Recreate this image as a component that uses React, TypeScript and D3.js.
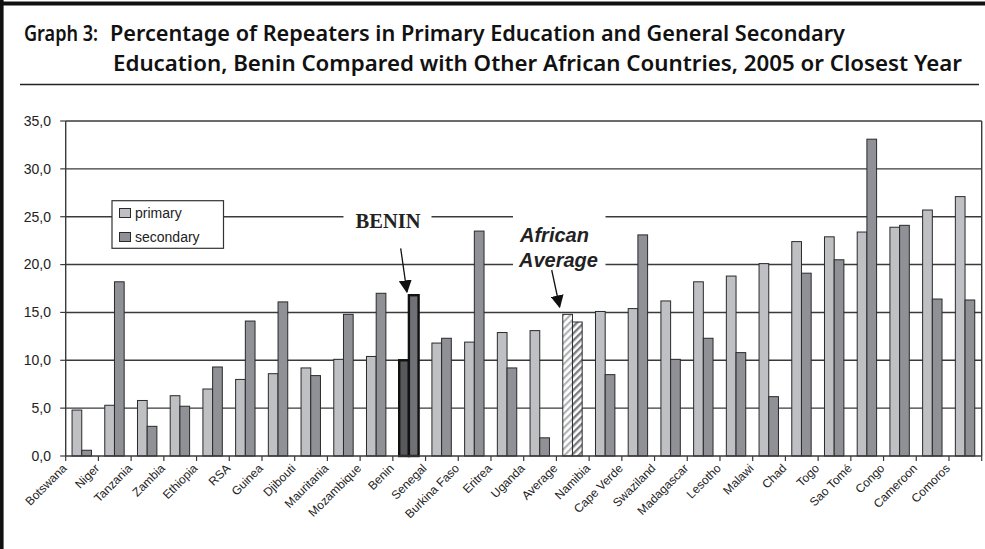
import React from "react";
import * as d3 from "d3";

const categories = [
  "Botswana", "Niger", "Tanzania", "Zambia", "Ethiopia", "RSA", "Guinea", "Djibouti",
  "Mauritania", "Mozambique", "Benin", "Senegal", "Burkina Faso", "Eritrea", "Uganda",
  "Average", "Namibia", "Cape Verde", "Swaziland", "Madagascar", "Lesotho", "Malawi",
  "Chad", "Togo", "Sao Tomé", "Congo", "Cameroon", "Comoros",
];
const primary = [
  4.8, 5.3, 5.8, 6.3, 7.0, 8.0, 8.6, 9.2, 10.1, 10.4, 10.0, 11.8, 11.9, 12.9, 13.1,
  14.8, 15.1, 15.4, 16.2, 18.2, 18.8, 20.1, 22.4, 22.9, 23.4, 23.9, 25.7, 27.1,
];
const secondary = [
  0.6, 18.2, 3.1, 5.2, 9.3, 14.1, 16.1, 8.4, 14.8, 17.0, 16.8, 12.3, 23.5, 9.2, 1.9,
  14.0, 8.5, 23.1, 10.1, 12.3, 10.8, 6.2, 19.1, 20.5, 33.1, 24.1, 16.4, 16.3,
];
const yTicks = [0, 5, 10, 15, 20, 25, 30, 35];
const seriesNames = ["primary", "secondary"];
const titleLine1a = "Graph 3:";
const titleLine1b = "Percentage of Repeaters in Primary Education and General Secondary";
const titleLine2 = "Education, Benin Compared with Other African Countries, 2005 or Closest Year";

const HIGHLIGHT = "Benin";
const AVERAGE = "Average";

export default function App() {
  const W = 985, H = 549;
  const left = 65.7, right = 981.7, top = 121, bottom = 456;
  const x = d3.scaleBand<string>().domain(categories).range([left, right]).padding(0);
  const y = d3.scaleLinear().domain([0, 35]).range([bottom, top]);
  const bw = x.bandwidth();
  const barW = 9.7;
  const offset = (bw - 2 * barW) / 2 - 0.3;
  const fmt = (v: number) => d3.format(".1f")(v).replace(".", ",");
  const colP = "#bfc0c4", colS = "#8f9196";
  const gridCol = "#3a3a3a";
  const sans = "'Liberation Sans', Arial, sans-serif";

  const bars: JSX.Element[] = [];
  categories.forEach((c, i) => {
    const x0 = (x(c) as number) + offset;
    [primary[i], secondary[i]].forEach((v, j) => {
      const bx = x0 + j * barW;
      const by = y(v);
      const h = y(0) - by;
      let fill = j === 0 ? colP : colS;
      let stroke = "#2a2a2a";
      let sw = 1;
      if (c === HIGHLIGHT) {
        fill = j === 0 ? "#58595c" : "#707176";
        stroke = "#111";
        sw = 2.4;
      } else if (c === AVERAGE) {
        fill = j === 0 ? "url(#hatchP)" : "url(#hatchS)";
      }
      bars.push(
        <rect key={c + j} x={bx} y={by} width={barW} height={h} fill={fill} stroke={stroke} strokeWidth={sw} />
      );
    });
  });

  const benX = (x(HIGHLIGHT) as number) + offset + barW;
  const avgX = (x(AVERAGE) as number) + offset + barW / 2;

  return (
    <svg width={W} height={H} style={{ position: "absolute", left: 0, top: 0, background: "#fff" }}>
      <defs>
        <pattern id="hatchP" width="5" height="5" patternUnits="userSpaceOnUse" patternTransform="rotate(45)">
          <rect width="5" height="5" fill="#fff" />
          <rect width="2.2" height="5" fill="#b3b4b8" />
        </pattern>
        <pattern id="hatchS" width="5" height="5" patternUnits="userSpaceOnUse" patternTransform="rotate(45)">
          <rect width="5" height="5" fill="#fff" />
          <rect width="2.4" height="5" fill="#7c7d82" />
        </pattern>
        <marker id="arr" viewBox="0 0 10 10" refX="9" refY="5" markerWidth="13" markerHeight="13" markerUnits="userSpaceOnUse" orient="auto">
          <path d="M0,0 L10,5 L0,10 z" fill="#111" />
        </marker>
      </defs>

      {/* frame */}
      <line x1={0} y1={3.5} x2={W} y2={3.5} stroke="#111" strokeWidth={4} />
      <line x1={1.8} y1={0} x2={1.8} y2={H} stroke="#111" strokeWidth={3.6} />

      {/* title */}
      <g fontFamily="'Noto Sans', 'Open Sans', sans-serif" fontWeight={600} fontSize={21} fill="#111">
        <text x={24} y={41} textLength={74} lengthAdjust="spacingAndGlyphs">{titleLine1a}</text>
        <text x={110} y={41} textLength={735} lengthAdjust="spacingAndGlyphs">{titleLine1b}</text>
        <text x={113} y={71} textLength={849} lengthAdjust="spacingAndGlyphs">{titleLine2}</text>
      </g>
      <line x1={20} y1={84.5} x2={979} y2={84.5} stroke="#222" strokeWidth={1.6} />

      {/* gridlines */}
      {yTicks.filter((t) => t > 0).map((t) => (
        <line key={t} x1={left} x2={right} y1={y(t)} y2={y(t)} stroke={gridCol} strokeWidth={1.4} />
      ))}
      <line x1={right} x2={right} y1={top} y2={bottom} stroke={gridCol} strokeWidth={1.4} />

      {/* white boxes behind annotations */}
      <rect x={343.5} y={204} width={88} height={32} fill="#fff" />
      <rect x={513} y={205} width={92.5} height={68} fill="#fff" />

      {/* bars */}
      {bars}

      {/* axes */}
      <line x1={left} x2={left} y1={top} y2={bottom} stroke={gridCol} strokeWidth={1.4} />
      <line x1={left} x2={right} y1={bottom} y2={bottom} stroke={gridCol} strokeWidth={1.4} />
      {yTicks.map((t) => (
        <g key={t}>
          <line x1={left - 5.5} x2={left} y1={y(t)} y2={y(t)} stroke={gridCol} strokeWidth={1.2} />
          <text x={51} y={y(t)} dy="0.35em" textAnchor="end" fontFamily={sans} fontSize={14} fill="#222">{fmt(t)}</text>
        </g>
      ))}
      {categories.map((c) => (
        <line key={"t" + c} x1={x(c) as number} x2={x(c) as number} y1={bottom} y2={bottom + 5} stroke={gridCol} strokeWidth={1.2} />
      ))}
      <line x1={right} x2={right} y1={bottom} y2={bottom + 5} stroke={gridCol} strokeWidth={1.2} />
      {categories.map((c) => {
        const ax = (x(c) as number) + 1.8;
        const ay = 469;
        return (
          <text key={"l" + c} x={ax} y={ay} transform={`rotate(-45, ${ax}, ${ay})`} textAnchor="end"
            fontFamily={sans} fontSize={12} fill="#222">{c}</text>
        );
      })}

      {/* legend */}
      <rect x={112} y={200.7} width={111.5} height={47.6} fill="#fff" stroke="#333" strokeWidth={1.2} />
      {seriesNames.map((s, i) => (
        <g key={s}>
          <rect x={119.5} y={208.5 + i * 24} width={11} height={9} fill={i === 0 ? colP : colS} stroke="#2a2a2a" strokeWidth={1} />
          <text x={135} y={213.3 + i * 24} dy="0.35em" fontFamily={sans} fontSize={14} fill="#222">{s}</text>
        </g>
      ))}

      {/* annotations */}
      <text x={388} y={228} textAnchor="middle" fontFamily="'Liberation Serif', 'Times New Roman', serif" fontWeight="bold" fontSize={20.5} fill="#222">BENIN</text>
      <line x1={400.7} y1={248.3} x2={benX - 2} y2={292} stroke="#111" strokeWidth={1.3} markerEnd="url(#arr)" />
      <g fontFamily={sans} fontWeight="bold" fontStyle="italic" fontSize={20} fill="#222">
        <text x={520} y={242}>African</text>
        <text x={519} y={267}>Average</text>
      </g>
      <line x1={551.7} y1={270} x2={avgX - 8} y2={307} stroke="#111" strokeWidth={1.3} markerEnd="url(#arr)" />
    </svg>
  );
}
